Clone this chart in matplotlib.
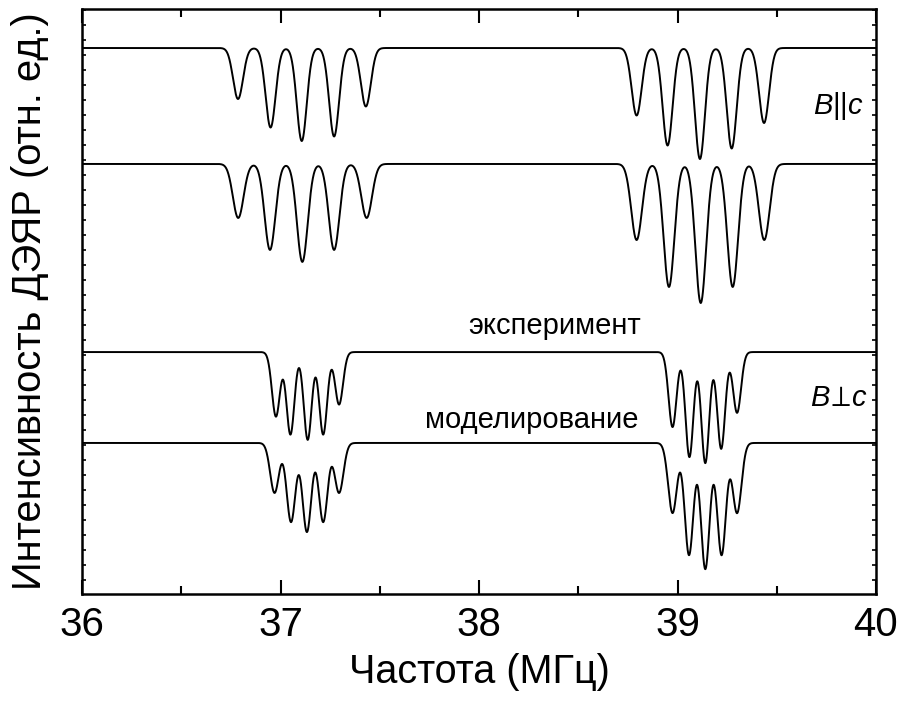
import matplotlib
matplotlib.use('Agg')
import matplotlib.pyplot as plt
import numpy as np

plt.rcParams['font.family'] = ['Liberation Sans', 'DejaVu Sans']
plt.rcParams['mathtext.fontset'] = 'custom'
plt.rcParams['mathtext.rm'] = 'Liberation Sans'
plt.rcParams['mathtext.it'] = 'Liberation Sans:italic'
plt.rcParams['mathtext.fallback'] = 'stixsans'

# line positions (MHz), depths (arb. units) and widths
# B||c, experiment
par_exp_base = 36.4
par_exp_pos = [36.786, 36.95, 37.107, 37.27, 37.43,
               38.794, 38.95, 39.113, 39.273, 39.436]
par_exp_depth = [3.4, 5.3, 6.2, 5.9, 3.9,
                 4.5, 6.5, 7.4, 6.7, 5.0]
par_exp_width = 0.025

# B||c, simulation
par_sim_base = 28.67
par_sim_pos = [36.787, 36.947, 37.11, 37.27, 37.434,
               38.794, 38.957, 39.117, 39.278, 39.437]
par_sim_depth = [3.6, 5.73, 6.53, 5.73, 3.6,
                 5.07, 8.2, 9.27, 8.2, 5.07]
par_sim_width = 0.027

# B perp c, experiment
perp_exp_base = 16.13
perp_exp_pos = [36.977, 37.05, 37.137, 37.215, 37.295,
                38.975, 39.06, 39.14, 39.22, 39.30]
perp_exp_depth = [4.3, 5.5, 5.85, 5.5, 3.5,
                  5.0, 7.0, 7.4, 6.45, 4.05]
perp_exp_width = 0.02

# B perp c, simulation
perp_sim_base = 10.07
perp_sim_pos = [36.97, 37.053, 37.133, 37.215, 37.295,
                38.975, 39.058, 39.14, 39.222, 39.30]
perp_sim_depth = [3.33, 5.27, 5.93, 5.27, 3.33,
                  4.67, 7.47, 8.4, 7.47, 4.67]
perp_sim_width = 0.022

freq = np.linspace(36, 40, 4001)


def spectrum(base, pos, depth, width):
    y = np.full_like(freq, base)
    for p, d in zip(pos, depth):
        y -= d * np.exp(-(freq - p) ** 2 / (2 * width ** 2))
    return y


fig = plt.figure(figsize=(8.99, 7.04), dpi=100)
ax = fig.add_axes([82 / 899, 110 / 704, 794 / 899, 585 / 704])

for base, pos, depth, width in [
        (par_exp_base, par_exp_pos, par_exp_depth, par_exp_width),
        (par_sim_base, par_sim_pos, par_sim_depth, par_sim_width),
        (perp_exp_base, perp_exp_pos, perp_exp_depth, perp_exp_width),
        (perp_sim_base, perp_sim_pos, perp_sim_depth, perp_sim_width)]:
    ax.plot(freq, spectrum(base, pos, depth, width), color='black', lw=1.4)

ax.set_xlim(36, 40)
ax.set_ylim(0, 39)
ax.set_xticks([36, 37, 38, 39, 40])
ax.set_xticks(np.arange(36.5, 40, 1), minor=True)
ax.set_yticks([])
ax.set_yticks(np.arange(0.93, 39, 1), minor=True)
ax.tick_params(axis='x', which='both', direction='in', top=True,
               width=1.5, labelsize=29, pad=9)
ax.tick_params(axis='x', which='major', length=10)
ax.tick_params(axis='x', which='minor', length=6)
ax.tick_params(axis='y', which='minor', direction='in', left=True,
               right=True, length=3, width=1.2)
for s in ax.spines.values():
    s.set_linewidth(1.8)

ax.set_xlabel('Частота (МГц)', fontsize=28.5, labelpad=6)
ax.set_ylabel('Интенсивность ДЭЯР (отн. ед.)', fontsize=28.8)
ax.yaxis.set_label_coords(-0.042, 0.5)

ax.text(38.383, 17.33, 'эксперимент', fontsize=21, ha='center',
        va='baseline')
ax.text(38.267, 11.07, 'моделирование', fontsize=21, ha='center',
        va='baseline')
ax.text(39.81, 32.53, r'$B\mathrm{||}c$', fontsize=21, ha='center',
        va='center')
ax.text(39.81, 13.07, r'$B\!\perp\!c$', fontsize=21, ha='center',
        va='center')

fig.savefig('out.png', dpi=100)
